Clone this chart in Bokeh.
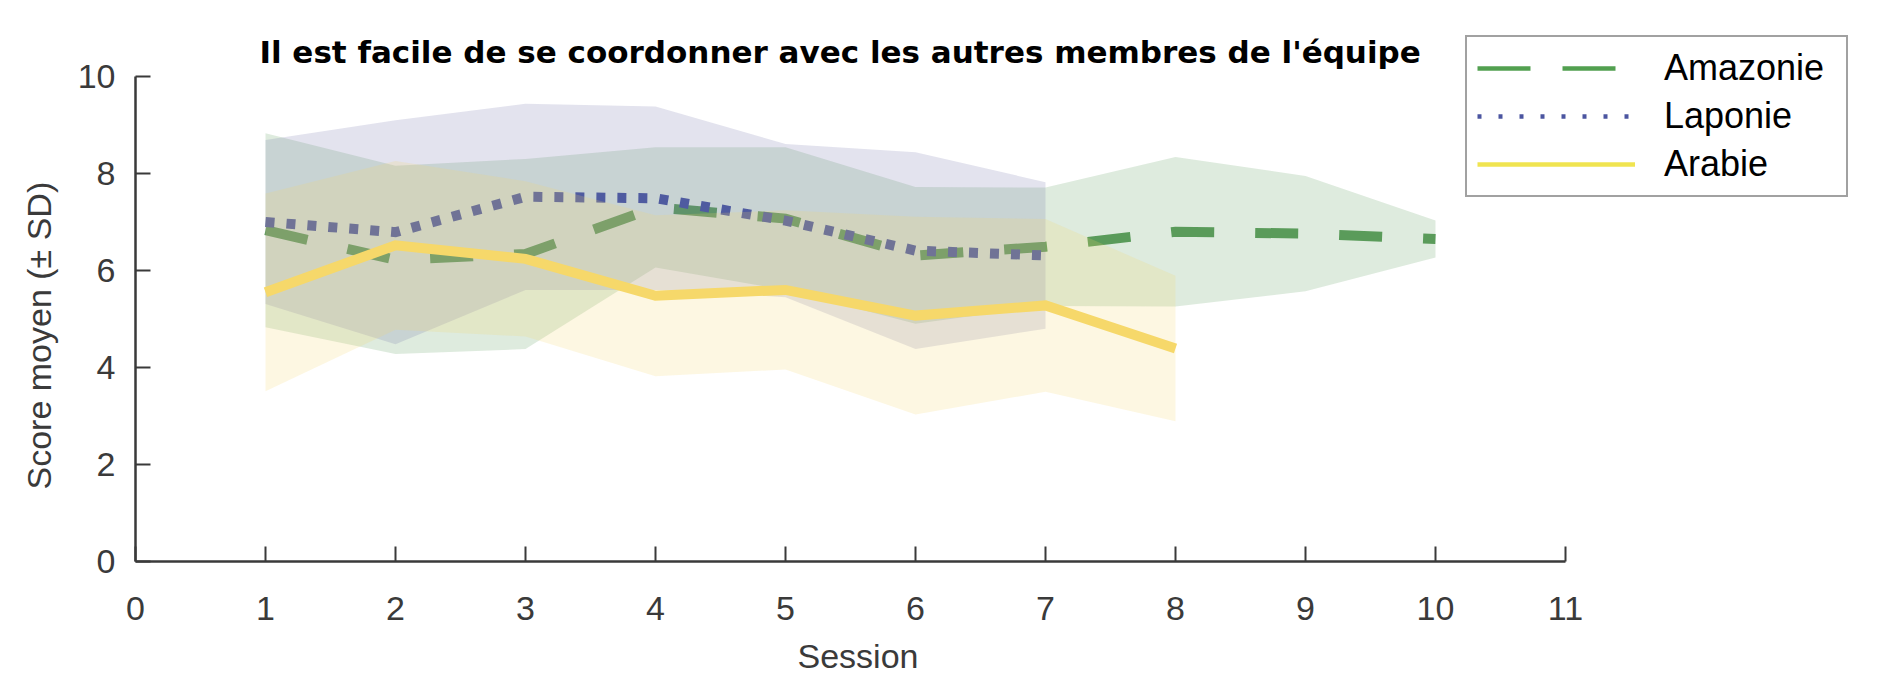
from bokeh.plotting import figure
from bokeh.models import FixedTicker, Legend, LegendItem, Range1d, Title, Label
from bokeh.embed import file_html
from bokeh.resources import INLINE

# ---- data ----
title_text = "Il est facile de se coordonner avec les autres membres de l'équipe"
x_label = "Session"
y_label = "Score moyen (± SD)"

x_ticks = [0, 1, 2, 3, 4, 5, 6, 7, 8, 9, 10, 11]
y_ticks = [0, 2, 4, 6, 8, 10]

amazonie_sessions = [1, 2, 3, 4, 5, 6, 7, 8, 9, 10]
amazonie_mean = [6.83, 6.22, 6.34, 7.30, 7.07, 6.31, 6.49, 6.80, 6.76, 6.65]
amazonie_sd = [2.00, 1.94, 1.96, 1.24, 1.47, 1.41, 1.22, 1.54, 1.19, 0.38]

laponie_sessions = [1, 2, 3, 4, 5, 6, 7]
laponie_mean = [7.00, 6.79, 7.52, 7.49, 7.03, 6.41, 6.31]
laponie_sd = [1.69, 2.31, 1.92, 1.89, 1.58, 2.03, 1.51]

arabie_sessions = [1, 2, 3, 4, 5, 6, 7, 8]
arabie_mean = [5.55, 6.52, 6.24, 5.48, 5.60, 5.07, 5.28, 4.39]
arabie_sd = [2.04, 1.74, 1.60, 1.66, 1.64, 2.04, 1.78, 1.50]

series_names = ["Amazonie", "Laponie", "Arabie"]

# ---- styles / layout ----
AX = "#3a3a3a"
line_colors = ["#5a9b5a", "#4f5ba0", "#f6d86a"]
band_colors = ["#5a9b5a", "#7373aa", "#f5d76e"]
legend_colors = ["#52a050", "#4b55a0", "#f0e450"]
dashes = ["43 41", "9 12", "solid"]
legend_dashes = ["53 32", "4 17", "solid"]

PX_X = 130.0        # px per session
PX_Y = 48.5         # px per score unit
FRAME_W = 1718      # frame extends right so the legend can sit over it
FRAME_H = 543       # frame extends above 10 so the legend/title fit inside
x_end = FRAME_W / PX_X
y_end = FRAME_H / PX_Y

p = figure(frame_width=FRAME_W, frame_height=FRAME_H,
           output_backend="svg", toolbar_location=None,
           x_range=Range1d(0, x_end), y_range=Range1d(0, y_end),
           min_border_left=135, min_border_right=20,
           min_border_top=18, min_border_bottom=135)
p.outline_line_color = None
p.grid.visible = False
p.background_fill_color = "white"

p.xaxis.ticker = FixedTicker(ticks=x_ticks)
p.yaxis.ticker = FixedTicker(ticks=y_ticks)
p.xaxis.bounds = (x_ticks[0], x_ticks[-1])
p.yaxis.bounds = (y_ticks[0], y_ticks[-1])
for ax in (p.xaxis, p.yaxis):
    ax.axis_line_color = AX
    ax.axis_line_width = 2.5
    ax.major_tick_line_color = AX
    ax.major_tick_line_width = 2
    ax.major_tick_in = 15
    ax.major_tick_out = 0
    ax.minor_tick_in = 0
    ax.minor_tick_out = 0
    ax.major_label_text_font = "Liberation Sans"
    ax.major_label_text_font_size = "34px"
    ax.major_label_text_color = AX
p.xaxis.major_label_standoff = 35
p.yaxis.major_label_standoff = 20

# axis titles placed as side titles so they center on the 0-11 / 0-10 spans
xt = Title(text=x_label, align="left", offset=662, standoff=25,
           text_font="Liberation Sans", text_font_size="34px",
           text_font_style="normal", text_color=AX)
p.add_layout(xt, "below")
yt = Title(text=y_label, align="left", offset=72, standoff=34,
           text_font="Liberation Sans", text_font_size="34px",
           text_font_style="normal", text_color=AX)
p.add_layout(yt, "left")

# main title
p.add_layout(Label(x=5.42, y=10.50, text=title_text, text_align="center",
                   text_baseline="middle", text_font="DejaVu Sans",
                   text_font_style="bold", text_font_size="31px",
                   text_color="black"))

p.extra_y_ranges = {"legend_proxy": Range1d(-1000, -999)}

series = [
    (amazonie_sessions, amazonie_mean, amazonie_sd),
    (laponie_sessions, laponie_mean, laponie_sd),
    (arabie_sessions, arabie_mean, arabie_sd),
]

legend_items = []
for i, (xs, m, sd) in enumerate(series):
    lo = [a - b for a, b in zip(m, sd)]
    hi = [a + b for a, b in zip(m, sd)]
    p.varea(x=xs, y1=lo, y2=hi, fill_color=band_colors[i], fill_alpha=0.2)
    p.line(x=xs, y=m, line_color=line_colors[i], line_width=10,
           line_dash=dashes[i], line_join="miter")
    # thinner line style used only for the legend swatch (drawn off-frame)
    proxy = p.line(x=xs, y=m, y_range_name="legend_proxy",
                   line_color=legend_colors[i], line_width=4.5,
                   line_dash=legend_dashes[i])
    legend_items.append(LegendItem(label=series_names[i], renderers=[proxy]))

legend = Legend(items=legend_items, location=(1330, 364),
                glyph_width=158, glyph_height=42, label_height=42,
                label_width=172, label_standoff=29, spacing=6, padding=10,
                margin=0,
                label_text_font="Liberation Sans", label_text_font_size="36px",
                label_text_color="black",
                border_line_color="#444444", border_line_width=2.5,
                background_fill_color="white", background_fill_alpha=1.0)
p.add_layout(legend, "center")

open("out.html", "w").write(file_html(p, INLINE))
